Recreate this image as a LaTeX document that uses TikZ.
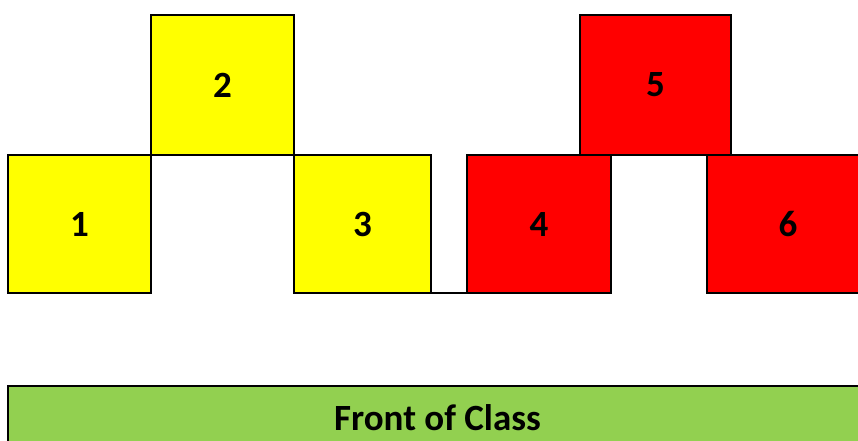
\documentclass[tikz,border=0pt]{standalone}
\usepackage{fontspec}
\setmainfont{Carlito}
\definecolor{deskyellow}{HTML}{FFFF00}
\definecolor{deskred}{HTML}{FF0000}
\definecolor{frontgreen}{HTML}{92D050}
\tikzset{
  seat/.style={draw=black, line width=2pt, inner sep=0pt, outer sep=0pt,
    font=\fontsize{37}{40}\selectfont\bfseries},
}

\begin{document}
\begin{tikzpicture}[x=1pt, y=-1pt]
    \useasboundingbox (0,0) rectangle (858,440);
    \clip (0,0) rectangle (858,440);
    % yellow group
    \node[seat, fill=deskyellow, minimum width=143pt, minimum height=138pt] (s1) at (79.5,224) {1};
    \node[seat, fill=deskyellow, minimum width=143pt, minimum height=140pt] (s2) at (222.5,85) {2};
    \node[seat, fill=deskyellow, minimum width=137pt, minimum height=138pt] (s3) at (362.5,224) {3};
    % red group
    \node[seat, fill=deskred, minimum width=144pt, minimum height=138pt] (s4) at (539,224) {4};
    \node[seat, fill=deskred, minimum width=151pt, minimum height=140pt] (s5) at (655.5,85) {5};
    \node[seat, fill=deskred, minimum width=162pt, minimum height=138pt] (s6) at (788,224) {6};
    \draw[line width=2pt] (s3.south east) -- (s4.south west);
    % board
    \node[seat, fill=frontgreen, minimum width=859pt, minimum height=64pt] (front) at (437.5,418) {Front of Class};
\end{tikzpicture}
\end{document}
